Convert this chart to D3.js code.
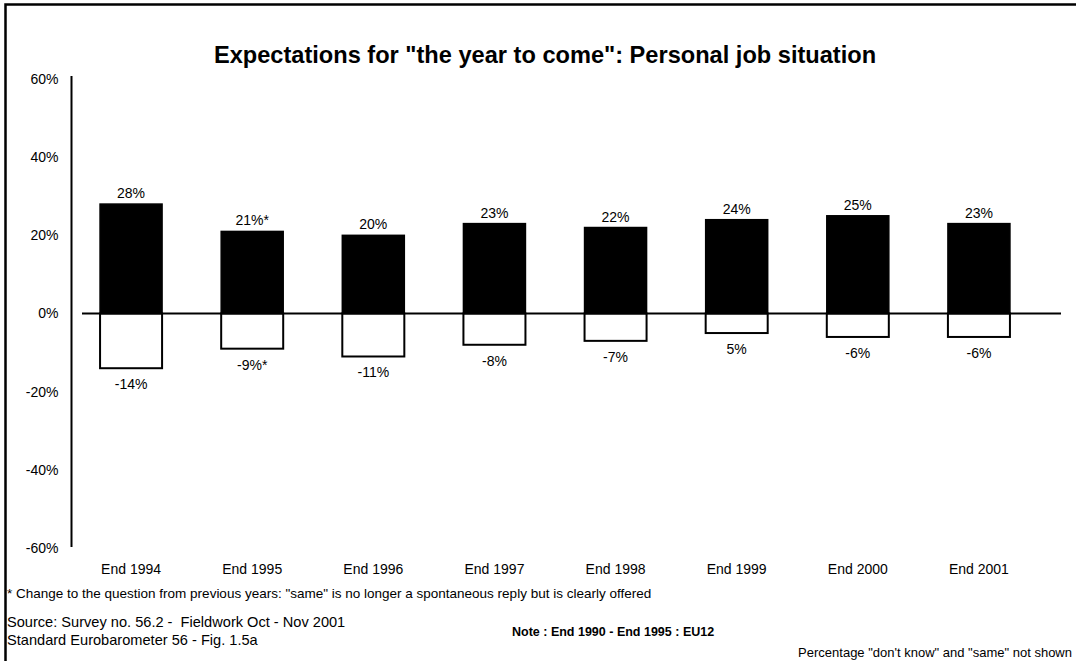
<!DOCTYPE html>
<html>
<head>
<meta charset="utf-8">
<script src="https://cdn.jsdelivr.net/npm/d3@7"></script>
<style>
  html, body { margin: 0; padding: 0; background: #fff; }
  svg { display: block; font-family: "Liberation Sans", Arial, sans-serif; }
  text { white-space: pre; }
</style>
</head>
<body>
<svg id="chart" width="1076" height="661"></svg>
<script>
// Survey waves shown on the x axis
const categories = ["End 1994", "End 1995", "End 1996", "End 1997", "End 1998", "End 1999", "End 2000", "End 2001"];
// Share expecting a better personal job situation (%)
const betterValues = [28, 21, 20, 23, 22, 24, 25, 23];
const betterLabels = ["28%", "21%*", "20%", "23%", "22%", "24%", "25%", "23%"];
// Share expecting a worse personal job situation (%)
const worseValues = [-14, -9, -11, -8, -7, -5, -6, -6];
const worseLabels = ["-14%", "-9%*", "-11%", "-8%", "-7%", "5%", "-6%", "-6%"];
// Y axis tick values
const yTicks = [60, 40, 20, 0, -20, -40, -60];

const FONT = "Liberation Sans, Arial, sans-serif";
const svg = d3.select("#chart");

// outer frame (runs past the right and bottom edges)
svg.append("rect")
  .attr("x", 5.5).attr("y", 4.5)
  .attr("width", 1100).attr("height", 700)
  .attr("fill", "none").attr("stroke", "#000").attr("stroke-width", 2.5);

const y = d3.scaleLinear().domain([-60, 60]).range([548, 79]);
const x = d3.scaleBand().domain(categories).range([39.5, 1070.5]).paddingInner(0.488).paddingOuter(0.5);

// title
svg.append("text")
  .attr("x", 545).attr("y", 63)
  .attr("text-anchor", "middle")
  .attr("font-size", 23.6).attr("font-weight", "bold")
  .text("Expectations for \"the year to come\": Personal job situation");

// y axis: line plus labels only
const yAxis = d3.axisLeft(y).tickValues(yTicks).tickSize(0).tickPadding(13)
  .tickFormat(d => d + "%");
const gy = svg.append("g").attr("transform", "translate(71.5,0)").call(yAxis);
gy.select(".domain").attr("stroke", "#000").attr("stroke-width", 2)
  .attr("d", `M0,${y(60) - 3}V${y(-60) - 1}`);
gy.selectAll("text").attr("font-size", 14).attr("font-family", FONT).attr("fill", "#000");

// x category labels
const xAxis = d3.axisBottom(x).tickSize(0).tickPadding(0);
const gx = svg.append("g").attr("transform", "translate(0,564)").call(xAxis);
gx.select(".domain").remove();
gx.selectAll("text").attr("font-size", 14).attr("font-family", FONT).attr("fill", "#000");

// positive bars
svg.append("g").selectAll("rect")
  .data(betterValues)
  .join("rect")
  .attr("x", (d, i) => x(categories[i]))
  .attr("y", d => y(d))
  .attr("width", x.bandwidth())
  .attr("height", d => y(0) - y(d))
  .attr("fill", "#000").attr("stroke", "#000").attr("stroke-width", 1.5);

// negative bars
svg.append("g").selectAll("rect")
  .data(worseValues)
  .join("rect")
  .attr("x", (d, i) => x(categories[i]))
  .attr("y", y(0))
  .attr("width", x.bandwidth())
  .attr("height", d => y(d) - y(0))
  .attr("fill", "#fff").attr("stroke", "#000").attr("stroke-width", 2);

// zero line
svg.append("line")
  .attr("x1", 82).attr("x2", 1061)
  .attr("y1", y(0)).attr("y2", y(0))
  .attr("stroke", "#000").attr("stroke-width", 2);

// value labels
svg.append("g").selectAll("text")
  .data(betterValues)
  .join("text")
  .attr("x", (d, i) => x(categories[i]) + x.bandwidth() / 2)
  .attr("y", d => y(d) - 6)
  .attr("text-anchor", "middle").attr("font-size", 14)
  .text((d, i) => betterLabels[i]);

svg.append("g").selectAll("text")
  .data(worseValues)
  .join("text")
  .attr("x", (d, i) => x(categories[i]) + x.bandwidth() / 2)
  .attr("y", d => y(d) + 21)
  .attr("text-anchor", "middle").attr("font-size", 14)
  .text((d, i) => worseLabels[i]);

// notes
svg.append("text").attr("x", 7).attr("y", 598).attr("font-size", 13.5)
  .text("* Change to the question from previous years: \"same\" is no longer a spontaneous reply but is clearly offered");
svg.append("text").attr("x", 7).attr("y", 627).attr("font-size", 14.6)
  .text("Source: Survey no. 56.2 -  Fieldwork Oct - Nov 2001");
svg.append("text").attr("x", 7).attr("y", 645).attr("font-size", 14.6)
  .text("Standard Eurobarometer 56 - Fig. 1.5a");
svg.append("text").attr("x", 512).attr("y", 636).attr("font-size", 12.5).attr("font-weight", "bold")
  .text("Note : End 1990 - End 1995 : EU12");
svg.append("text").attr("x", 1072).attr("y", 657).attr("font-size", 13).attr("text-anchor", "end")
  .text("Percentage \"don't know\" and \"same\" not shown");
</script>
</body>
</html>
